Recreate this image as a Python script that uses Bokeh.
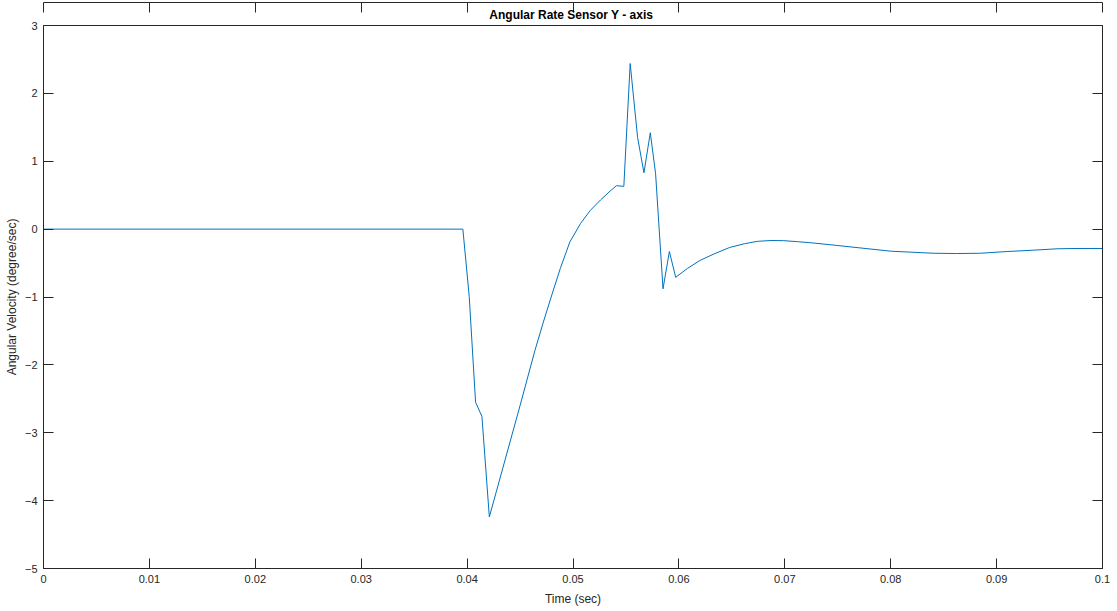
from bokeh.plotting import figure
from bokeh.models import LinearAxis, FixedTicker, CustomJSTickFormatter, Range1d, Title
from bokeh.embed import file_html
from bokeh.resources import INLINE

# Data
time_sec = [0, 0.0396, 0.0402, 0.0408, 0.0414, 0.0421, 0.0450, 0.0464, 0.0472, 0.0480,
            0.0488, 0.0497, 0.0507, 0.0516, 0.0526, 0.0535, 0.0541, 0.0548, 0.0554, 0.0561,
            0.0567, 0.0573, 0.0578, 0.0585, 0.0591, 0.0597, 0.0608, 0.0620, 0.0634, 0.0648,
            0.0662, 0.0674, 0.0687, 0.0699, 0.0712, 0.0724, 0.0749, 0.0770, 0.0800, 0.0840,
            0.0862, 0.0885, 0.0910, 0.0935, 0.0957, 0.0975, 0.1]
angular_velocity = [0, 0, -0.99, -2.55, -2.76, -4.24, -2.60, -1.79, -1.37, -0.97,
                    -0.58, -0.19, 0.08, 0.27, 0.43, 0.56, 0.64, 0.63, 2.44, 1.35,
                    0.83, 1.42, 0.815, -0.88, -0.33, -0.71, -0.58, -0.46, -0.36, -0.27,
                    -0.215, -0.18, -0.168, -0.17, -0.185, -0.20, -0.24, -0.275, -0.325, -0.355,
                    -0.36, -0.355, -0.33, -0.31, -0.29, -0.285, -0.285]
x_ticks = [0, 0.01, 0.02, 0.03, 0.04, 0.05, 0.06, 0.07, 0.08, 0.09, 0.1]
y_ticks = [-5, -4, -3, -2, -1, 0, 1, 2, 3]

FONT = "Liberation Sans"
AX = "#262626"

p = figure(width=1117, height=611, output_backend="svg", toolbar_location=None,
           x_range=Range1d(0, 0.1), y_range=Range1d(-5, 3),
           min_border_left=43, min_border_right=15, min_border_top=25, min_border_bottom=43)
p.title = None
p.add_layout(Title(text="Angular Rate Sensor  Y - axis", align="center",
                   text_font=FONT, text_font_size="12px", text_font_style="bold",
                   text_color="#000000", standoff=7), "above")

p.grid.visible = False
p.outline_line_color = AX
p.background_fill_color = "white"
p.border_fill_color = "white"

fmt = CustomJSTickFormatter(code="return tick.toFixed(2).replace(/0+$/,'').replace(/\\.$/,'');")
blank = CustomJSTickFormatter(code="return '';")

def style(ax, ticks, labels=True):
    ax.ticker = FixedTicker(ticks=ticks)
    ax.minor_tick_line_color = None
    ax.major_tick_in = 10
    ax.major_tick_out = 0
    ax.axis_line_color = AX
    ax.major_tick_line_color = AX
    ax.major_label_text_font = FONT
    ax.major_label_text_font_size = "11px"
    ax.major_label_text_color = AX
    ax.axis_label_text_font = FONT
    ax.axis_label_text_font_size = "12px"
    ax.axis_label_text_font_style = "normal"
    ax.axis_label_text_color = AX
    if not labels:
        ax.formatter = blank
        ax.major_label_text_font_size = "0px"
        ax.major_label_standoff = 0

style(p.xaxis[0], x_ticks)
p.xaxis[0].formatter = fmt
p.xaxis[0].axis_label = "Time (sec)"
p.xaxis[0].major_label_standoff = 6
p.xaxis[0].axis_label_standoff = 6

style(p.yaxis[0], y_ticks)
p.yaxis[0].axis_label = "Angular Velocity (degree/sec)"
p.yaxis[0].major_label_standoff = 6
p.yaxis[0].axis_label_standoff = 3

top = LinearAxis()
style(top, x_ticks, labels=False)
p.add_layout(top, "above")
right = LinearAxis()
style(right, y_ticks, labels=False)
p.add_layout(right, "right")

p.line(time_sec, angular_velocity, line_color="#0072BD", line_width=1)

open("out.html", "w").write(file_html(p, INLINE))
